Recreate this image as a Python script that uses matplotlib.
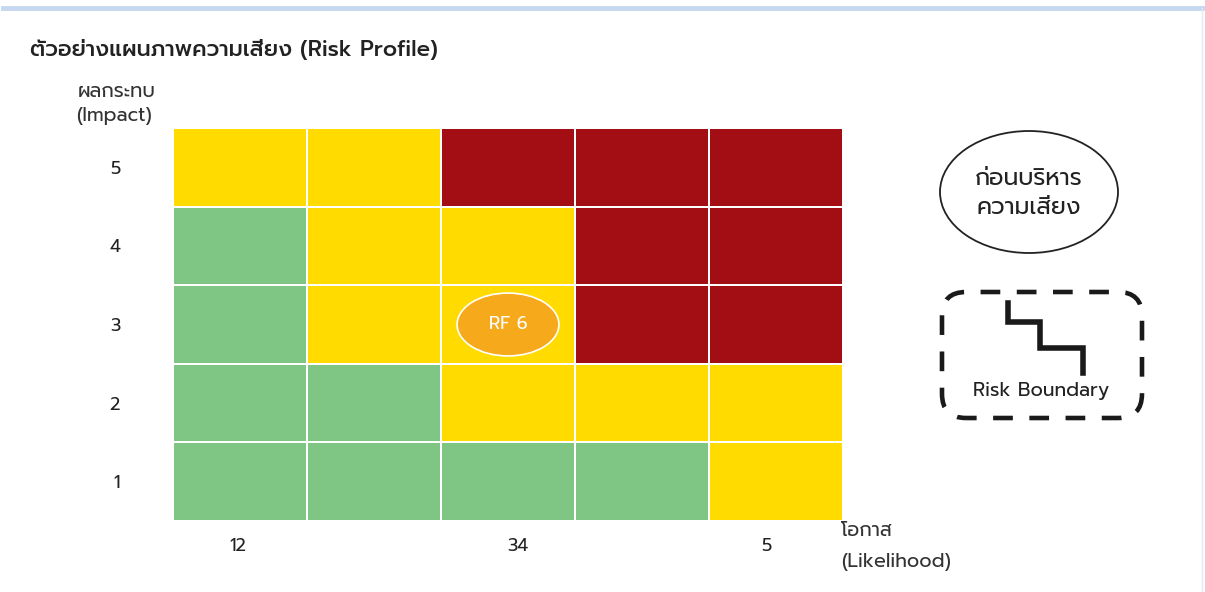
import matplotlib
matplotlib.use('Agg')
import numpy as np
import matplotlib.pyplot as plt
from matplotlib.colors import ListedColormap
from matplotlib.patches import Ellipse, FancyBboxPatch
from matplotlib.lines import Line2D

plt.rcParams['font.family'] = ['Prompt', 'Noto Sans Thai', 'DejaVu Sans']

# ระดับความเสี่ยง: 0 = ต่ำ (เขียว), 1 = กลาง (เหลือง), 2 = สูง (แดง)
# แถวจาก impact 1 (ล่าง) ถึง 5 (บน), คอลัมน์ likelihood 1..5
risk_levels = [
    [0, 0, 0, 0, 1],  # impact 1
    [0, 0, 1, 1, 1],  # impact 2
    [0, 1, 1, 2, 2],  # impact 3
    [0, 1, 1, 2, 2],  # impact 4
    [1, 1, 2, 2, 2],  # impact 5
]
level_colors = ['#7FC685', '#FFDB00', '#A30D14']

impact_ticks = [1, 2, 3, 4, 5]
impact_labels = ['1', '2', '3', '4', '5']
likelihood_ticks = [0.98, 3.07, 4.93]
likelihood_labels = ['12', '34', '5']

rf_name = 'RF 6'
rf_likelihood = 3
rf_impact = 3

title = 'ตัวอย่างแผนภาพความเสี่ยง (Risk Profile)'
before_text = 'ก่อนบริหาร\nความเสี่ยง'

W, H = 1205, 592
fig = plt.figure(figsize=(W / 100, H / 100), dpi=100)
fig.patch.set_facecolor('white')


def fx(px):
    return px / W


def fy(py):
    return 1 - py / H


# กรอบบนสีฟ้าอ่อน
fig.add_artist(Line2D([fx(3), fx(1205)], [fy(8), fy(8)], color='#C6D8EF', linewidth=3.5))
fig.add_artist(Line2D([fx(1202), fx(1202)], [fy(8), fy(592)], color='#E4EAF3', linewidth=1))

# ========== เมทริกซ์ความเสี่ยง ==========
ax = fig.add_axes([fx(173), fy(521), fx(843) - fx(173), fy(128) - fy(521)])
data = np.array(risk_levels)
xe = np.arange(0.5, 6.0, 1.0)
ax.pcolormesh(xe, xe, data, cmap=ListedColormap(level_colors), vmin=-0.5, vmax=2.5,
              edgecolors='white', linewidth=1.4)
ax.set_xlim(0.5, 5.5)
ax.set_ylim(0.5, 5.5)
for s in ax.spines.values():
    s.set_visible(False)

ax.set_yticks(impact_ticks)
ax.set_yticklabels(impact_labels, fontsize=13, color='#222222')
ax.tick_params(axis='y', length=0, pad=38)
ax.set_xticks(likelihood_ticks)
ax.set_xticklabels(likelihood_labels, fontsize=13, color='#222222')
ax.tick_params(axis='x', length=0, pad=12)

# จุด RF 6
ax.add_patch(Ellipse((rf_likelihood, rf_impact), 0.76, 0.8, facecolor='#F7A91C',
                     edgecolor='white', linewidth=1.2, zorder=3))
ax.text(rf_likelihood, rf_impact, rf_name, ha='center', va='center', color='white',
        fontsize=13, zorder=4)

# ========== ข้อความ ==========
fig.text(fx(30), fy(50), title, fontsize=16, fontweight='medium', color='#222222',
         va='center', ha='left')
fig.text(fx(78), fy(92), 'ผลกระทบ', fontsize=14, color='#333333', va='center')
fig.text(fx(76), fy(116), '(Impact)', fontsize=14, color='#333333', va='center')
fig.text(fx(841), fy(531), 'โอกาส', fontsize=14, color='#333333', va='center')
fig.text(fx(841), fy(562), '(Likelihood)', fontsize=14, color='#333333', va='center')

# วงรี "ก่อนบริหารความเสี่ยง"
fig.add_artist(Ellipse((fx(1029), fy(192)), fx(178), 122 / H, facecolor='white',
                       edgecolor='#222222', linewidth=1.3, transform=fig.transFigure))
fig.text(fx(1029), fy(193), before_text, fontsize=17, color='#222222',
         ha='center', va='center', linespacing=1.3)

# กรอบเส้นประ Risk Boundary
fig.add_artist(FancyBboxPatch((fx(942), fy(418)), fx(1142) - fx(942), fy(292) - fy(418),
                              boxstyle='round,pad=0,rounding_size=0.02',
                              facecolor='none', edgecolor='#1a1a1a', linewidth=3.3,
                              linestyle=(2, (4.3, 3.6)), transform=fig.transFigure,
                              mutation_aspect=W / H))
step_x = [1008, 1008, 1040, 1040, 1083, 1083]
step_y = [303, 322, 322, 348, 348, 373]
fig.add_artist(Line2D([fx(v) for v in step_x], [fy(v) for v in step_y], color='#1a1a1a',
                      linewidth=4, solid_joinstyle='miter'))
fig.text(fx(1041), fy(391), 'Risk Boundary', fontsize=14, color='#222222',
         ha='center', va='center')

fig.savefig('out.png', dpi=100)
